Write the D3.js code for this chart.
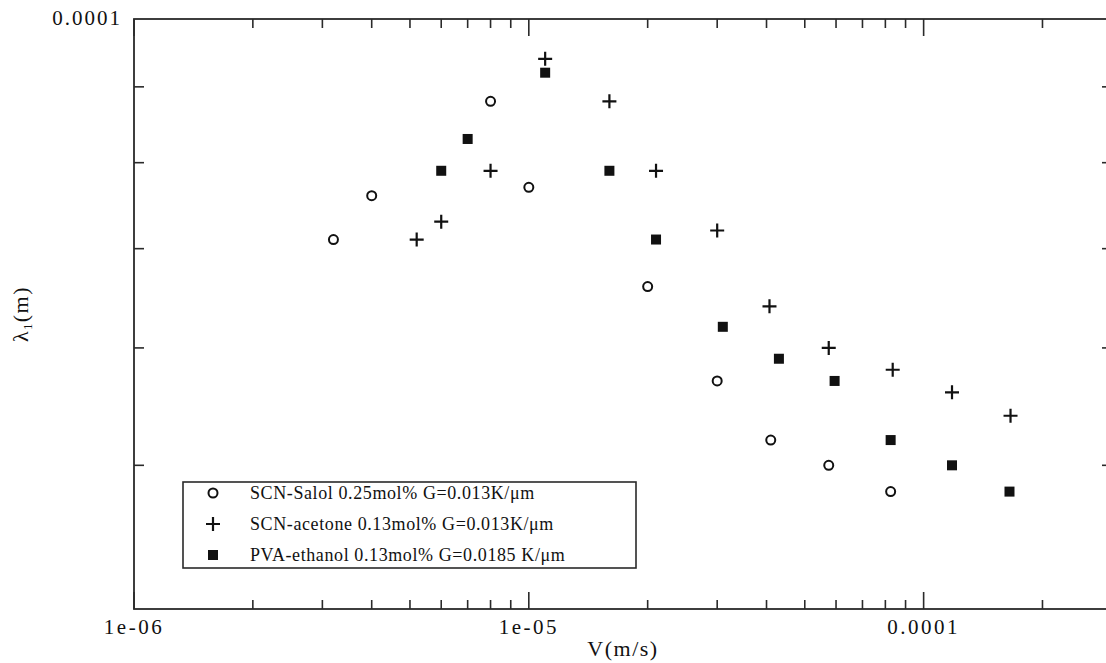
<!DOCTYPE html>
<html>
<head>
<meta charset="utf-8">
<script src="https://cdn.jsdelivr.net/npm/d3@7"></script>
<style>
  body { margin: 0; background: #fff; }
  svg { display: block; }
  text { font-family: "Liberation Serif", "DejaVu Serif", serif; fill: #111; }
</style>
</head>
<body>
<div id="chart"></div>
<script>
// series values
var salolV = [3.2e-6, 4.0e-6, 8.0e-6, 1.0e-5, 2.0e-5, 3.0e-5, 4.1e-5, 5.75e-5, 8.25e-5];
var salolL = [7.1e-5, 7.6e-5, 8.8e-5, 7.7e-5, 6.6e-5, 5.7e-5, 5.2e-5, 5.0e-5, 4.8e-5];

var acetoneV = [5.2e-6, 6.0e-6, 8.0e-6, 1.1e-5, 1.6e-5, 2.1e-5, 3.0e-5, 4.07e-5, 5.75e-5, 8.35e-5, 1.18e-4, 1.66e-4];
var acetoneL = [7.1e-5, 7.3e-5, 7.9e-5, 9.4e-5, 8.8e-5, 7.9e-5, 7.2e-5, 6.4e-5, 6.0e-5, 5.8e-5, 5.6e-5, 5.4e-5];

var pvaV = [6.0e-6, 7.0e-6, 1.1e-5, 1.6e-5, 2.1e-5, 3.1e-5, 4.3e-5, 5.95e-5, 8.25e-5, 1.18e-4, 1.65e-4];
var pvaL = [7.9e-5, 8.3e-5, 9.2e-5, 7.9e-5, 7.1e-5, 6.2e-5, 5.9e-5, 5.7e-5, 5.2e-5, 5.0e-5, 4.8e-5];

var legendLabels = [
  "SCN-Salol 0.25mol% G=0.013K/\u03bcm",
  "SCN-acetone 0.13mol% G=0.013K/\u03bcm",
  "PVA-ethanol 0.13mol% G=0.0185 K/\u03bcm"
];

var xDomain = [1e-6, 3e-4];
var yDomain = [4e-5, 1e-4];
var xMajorTicks = [1e-6, 1e-5, 1e-4];
var xTickLabels = ["1e-06", "1e-05", "0.0001"];
var yMajorTicks = [1e-4];
var yTickLabels = ["0.0001"];

var svgWidth = 1106;
var svgHeight = 663;
var margin = { top: 19, right: -6, bottom: 54, left: 134 };
var width = svgWidth - margin.left - margin.right;
var height = svgHeight - margin.top - margin.bottom;

var svg = d3.select("#chart")
  .append("svg")
  .attr("width", svgWidth)
  .attr("height", svgHeight);

var chartGroup = svg.append("g")
  .attr("transform", `translate(${margin.left}, ${margin.top})`);

var x = d3.scaleLog().domain(xDomain).range([0, width]);
var y = d3.scaleLog().domain(yDomain).range([height, 0]);

// minor ticks: every 1..9 times each decade inside the domain
function minorTicks(dom) {
  var out = [];
  for (var e = -7; e <= -3; e++) {
    for (var m = 2; m <= 9; m++) {
      var v = m * Math.pow(10, e);
      if (v > dom[0] * 1.0001 && v < dom[1] * 0.9999) out.push(v);
    }
  }
  return out;
}
var xMinor = minorTicks(xDomain);
var yMinor = minorTicks(yDomain);

var axisColor = "#2a2a2a";

// ticks (inward, mirrored on all four sides)
var tickG = chartGroup.append("g").attr("stroke", axisColor).attr("stroke-width", 1.6);
function xTick(v, len) {
  tickG.append("line").attr("x1", x(v)).attr("x2", x(v)).attr("y1", height).attr("y2", height - len);
  tickG.append("line").attr("x1", x(v)).attr("x2", x(v)).attr("y1", 0).attr("y2", len);
}
function yTick(v, len) {
  tickG.append("line").attr("y1", y(v)).attr("y2", y(v)).attr("x1", 0).attr("x2", len);
  tickG.append("line").attr("y1", y(v)).attr("y2", y(v)).attr("x1", width).attr("x2", width - len);
}
xMinor.forEach(v => xTick(v, 9));
xMajorTicks.forEach(v => xTick(v, 17));
yMinor.forEach(v => yTick(v, 10));

// frame
chartGroup.append("rect")
  .attr("x", 0).attr("y", 0)
  .attr("width", width).attr("height", height)
  .attr("fill", "none")
  .attr("stroke", axisColor)
  .attr("stroke-width", 1.8);

// tick labels
chartGroup.selectAll(".xlab")
  .data(xMajorTicks)
  .enter()
  .append("text")
  .attr("x", d => x(d))
  .attr("y", height + 25)
  .attr("text-anchor", "middle")
  .attr("font-size", "21px")
  .attr("letter-spacing", "2.5px")
  .text((d, i) => xTickLabels[i]);

chartGroup.selectAll(".ylab")
  .data(yMajorTicks)
  .enter()
  .append("text")
  .attr("x", -12)
  .attr("y", d => y(d) + 6)
  .attr("text-anchor", "end")
  .attr("font-size", "21px")
  .attr("letter-spacing", "2px")
  .text((d, i) => yTickLabels[i]);

// axis titles
chartGroup.append("text")
  .attr("x", width / 2)
  .attr("y", height + 47)
  .attr("text-anchor", "middle")
  .attr("font-size", "22px")
  .attr("letter-spacing", "1.5px")
  .text("V(m/s)");

var yTitle = chartGroup.append("text")
  .attr("transform", `translate(${-106}, ${height / 2}) rotate(-90)`)
  .attr("text-anchor", "middle")
  .attr("font-size", "22px")
  .attr("letter-spacing", "1.5px");
yTitle.append("tspan").text("\u03bb");
yTitle.append("tspan").attr("font-size", "12px").attr("dy", "4").text("1");
yTitle.append("tspan").attr("dy", "-4").text("(m)");

// markers
function drawCircle(g, cx, cy) {
  g.append("circle").attr("cx", cx).attr("cy", cy).attr("r", 4.5)
    .attr("fill", "#fff").attr("stroke", "#111").attr("stroke-width", 2);
}
function drawPlus(g, cx, cy) {
  g.append("path").attr("d", `M${cx - 7},${cy}H${cx + 7}M${cx},${cy - 7}V${cy + 7}`)
    .attr("stroke", "#111").attr("stroke-width", 2.2).attr("fill", "none");
}
function drawSquare(g, cx, cy) {
  g.append("rect").attr("x", cx - 5).attr("y", cy - 5).attr("width", 10).attr("height", 10)
    .attr("fill", "#111");
}

var pts = chartGroup.append("g");
salolV.forEach((v, i) => drawCircle(pts, x(v), y(salolL[i])));
acetoneV.forEach((v, i) => drawPlus(pts, x(v), y(acetoneL[i])));
pvaV.forEach((v, i) => drawSquare(pts, x(v), y(pvaL[i])));

// legend
var legend = svg.append("g").attr("transform", "translate(183, 482)");
legend.append("rect")
  .attr("width", 453).attr("height", 86)
  .attr("fill", "#fff")
  .attr("stroke", axisColor)
  .attr("stroke-width", 1.6);

var markers = [drawCircle, drawPlus, drawSquare];
legendLabels.forEach((label, i) => {
  var cy = 11 + i * 31;
  markers[i](legend, 30, cy);
  legend.append("text")
    .attr("x", 67)
    .attr("y", cy + 6)
    .attr("font-size", "18px")
    .attr("letter-spacing", "0.6px")
    .text(label);
});
</script>
</body>
</html>
